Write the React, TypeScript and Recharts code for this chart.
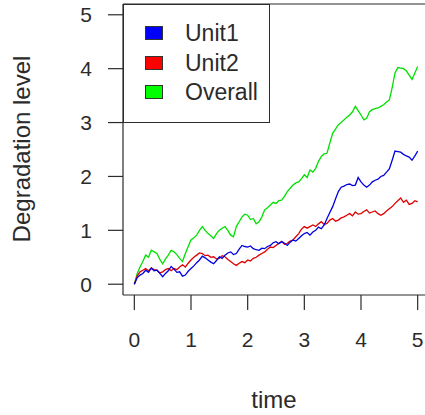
import React from 'react';
import { LineChart, Line, XAxis, YAxis, ReferenceLine, Legend, Label } from 'recharts';

// time grid and the three degradation paths
const TIME = [
  0, 0.05, 0.1, 0.15, 0.2, 0.25, 0.3, 0.35, 0.4, 0.45,
  0.5, 0.55, 0.6, 0.65, 0.7, 0.75, 0.8, 0.85, 0.9, 0.95,
  1, 1.05, 1.1, 1.15, 1.2, 1.25, 1.3, 1.35, 1.4, 1.45,
  1.5, 1.55, 1.6, 1.65, 1.7, 1.75, 1.8, 1.85, 1.9, 1.95,
  2, 2.05, 2.1, 2.15, 2.2, 2.25, 2.3, 2.35, 2.4, 2.45,
  2.5, 2.55, 2.6, 2.65, 2.7, 2.75, 2.8, 2.85, 2.9, 2.95,
  3, 3.05, 3.1, 3.15, 3.2, 3.25, 3.3, 3.35, 3.4, 3.45,
  3.5, 3.55, 3.6, 3.65, 3.7, 3.75, 3.8, 3.85, 3.9, 3.95,
  4, 4.05, 4.1, 4.15, 4.2, 4.25, 4.3, 4.35, 4.4, 4.45,
  4.5, 4.55, 4.6, 4.65, 4.7, 4.75, 4.8, 4.85, 4.9, 4.95,
  5,
];
const UNIT1 = [
  0, 0.12, 0.17, 0.2, 0.26, 0.22, 0.3, 0.25, 0.26, 0.2,
  0.14, 0.2, 0.25, 0.33, 0.28, 0.22, 0.23, 0.15, 0.17, 0.24,
  0.29, 0.34, 0.4, 0.45, 0.52, 0.49, 0.45, 0.41, 0.38, 0.44,
  0.51, 0.48, 0.54, 0.58, 0.6, 0.55, 0.57, 0.65, 0.72, 0.7,
  0.69, 0.71, 0.66, 0.64, 0.63, 0.67, 0.66, 0.7, 0.72, 0.77,
  0.79, 0.75, 0.79, 0.76, 0.72, 0.78, 0.82, 0.8, 0.85, 0.9,
  0.94, 0.96, 0.91, 0.97, 1.0, 1.06, 1.03, 1.1, 1.22, 1.33,
  1.44, 1.58, 1.72, 1.8, 1.82, 1.85, 1.86, 1.83, 1.84, 1.98,
  1.9, 1.84, 1.8, 1.84, 1.9, 1.93, 1.95, 2.0, 2.02, 2.08,
  2.14, 2.3, 2.47, 2.46, 2.45, 2.41, 2.38, 2.36, 2.3, 2.38,
  2.47,
];
const UNIT2 = [
  0, 0.15, 0.23, 0.26, 0.29, 0.25, 0.3, 0.27, 0.26, 0.21,
  0.23, 0.27, 0.29, 0.25, 0.29, 0.27, 0.32, 0.36, 0.32, 0.39,
  0.45, 0.5, 0.54, 0.58, 0.57, 0.53, 0.54, 0.5, 0.51, 0.47,
  0.48, 0.53, 0.51, 0.46, 0.42, 0.38, 0.35, 0.39, 0.42, 0.4,
  0.45, 0.43, 0.48, 0.5, 0.54, 0.57, 0.6, 0.65, 0.69, 0.68,
  0.72, 0.76, 0.79, 0.74, 0.76, 0.8, 0.82, 0.88, 0.94, 1.02,
  1.07, 1.04, 1.07, 1.1, 1.07, 1.12, 1.16, 1.11, 1.13, 1.19,
  1.22, 1.17, 1.19, 1.23, 1.25, 1.28, 1.31, 1.27, 1.34, 1.3,
  1.31, 1.35, 1.38, 1.32, 1.34, 1.36, 1.31, 1.28, 1.31, 1.36,
  1.4, 1.44, 1.5, 1.55, 1.6, 1.52, 1.56, 1.48, 1.5, 1.55,
  1.53,
];
const OVERALL = [
  0, 0.2, 0.32, 0.42, 0.54, 0.5, 0.63, 0.6, 0.57, 0.46,
  0.38, 0.47, 0.54, 0.63, 0.6, 0.55, 0.48, 0.42, 0.57, 0.7,
  0.82, 0.86, 0.91, 1.0, 1.07, 1.0, 0.94, 0.9, 0.85, 0.94,
  1.0, 1.04, 1.07, 1.0, 0.91, 0.88, 1.07, 1.16, 1.25, 1.3,
  1.28, 1.2, 1.22, 1.12, 1.16, 1.25, 1.38, 1.42, 1.47, 1.52,
  1.5, 1.55, 1.56, 1.63, 1.72, 1.78, 1.84, 1.88, 1.9, 1.96,
  2.03, 1.98, 2.12, 2.08, 2.15, 2.28, 2.37, 2.42, 2.43, 2.62,
  2.8, 2.88, 2.96, 3.0, 3.05, 3.1, 3.14, 3.2, 3.3, 3.22,
  3.14, 3.05, 3.08, 3.2, 3.24, 3.26, 3.27, 3.3, 3.33, 3.38,
  3.42, 3.65, 3.92, 4.02, 4.01, 4.0, 3.96, 3.88, 3.8, 3.92,
  4.04,
];
const X_TICKS = [0, 1, 2, 3, 4, 5];
const Y_TICKS = [0, 1, 2, 3, 4, 5];

const data = TIME.map((t, i) => ({
  time: t,
  Unit1: UNIT1[i],
  Unit2: UNIT2[i],
  Overall: OVERALL[i],
}));

const FONT = '"Liberation Sans", Arial, sans-serif';
const INK = '#2b2b2b';

const LEGEND_ITEMS = [
  { name: 'Unit1', fill: '#0000ff' },
  { name: 'Unit2', fill: '#ff0000' },
  { name: 'Overall', fill: '#00ff00' },
];

const renderLegend = () => (
  <div
    style={{
      position: 'relative',
      width: 147,
      height: 119,
      boxSizing: 'border-box',
      border: `1.5px solid ${INK}`,
      background: '#fff',
      fontFamily: FONT,
    }}
  >
    {LEGEND_ITEMS.map((item, i) => (
      <div
        key={item.name}
        style={{
          position: 'absolute',
          left: 21,
          top: 17 + i * 29.5,
          height: 22,
          display: 'flex',
          alignItems: 'center',
        }}
      >
        <span
          style={{
            display: 'inline-block',
            width: 18,
            height: 14,
            boxSizing: 'border-box',
            background: item.fill,
            border: '1px solid #333',
          }}
        />
        <span style={{ marginLeft: 22, fontSize: 23, color: INK, lineHeight: '22px' }}>
          {item.name}
        </span>
      </div>
    ))}
  </div>
);

export default function App() {
  return (
    <div
      style={{
        position: 'absolute',
        left: 0,
        top: 0,
        width: 425,
        height: 415,
        overflow: 'hidden',
        background: '#fff',
        fontFamily: FONT,
      }}
    >
      <LineChart width={430} height={415} data={data} margin={{ top: 4, right: 1, bottom: 0, left: 0 }}>
        <XAxis
          dataKey="time"
          type="number"
          domain={[-0.2, 5.2]}
          ticks={X_TICKS}
          allowDataOverflow
          height={120}
          tickSize={15}
          tickMargin={22}
          stroke={INK}
          strokeWidth={1.2}
          tick={{ fill: INK, fontSize: 21, fontFamily: FONT }}
        >
          <Label
            content={() => (
              <text x={274} y={408} textAnchor="middle" fill={INK} fontSize={24} fontFamily={FONT}>
                time
              </text>
            )}
          />
        </XAxis>
        <YAxis
          type="number"
          domain={[-0.2, 5.2]}
          ticks={Y_TICKS}
          allowDataOverflow
          width={123}
          tickSize={15}
          tickMargin={16}
          stroke={INK}
          strokeWidth={1.2}
          tick={{ fill: INK, fontSize: 21, fontFamily: FONT }}
        >
          <Label
            content={() => (
              <text
                x={30}
                y={149}
                textAnchor="middle"
                fill={INK}
                fontSize={24}
                fontFamily={FONT}
                transform="rotate(-90 30 149)"
              >
                Degradation level
              </text>
            )}
          />
        </YAxis>
        <ReferenceLine y={5.2} stroke={INK} strokeWidth={1.2} />
        <ReferenceLine x={5.2} stroke={INK} strokeWidth={1.2} />
        <Line type="linear" dataKey="Overall" stroke="#00e000" strokeWidth={1.3} dot={false} isAnimationActive={false} />
        <Line type="linear" dataKey="Unit2" stroke="#e00000" strokeWidth={1.3} dot={false} isAnimationActive={false} />
        <Line type="linear" dataKey="Unit1" stroke="#0000e0" strokeWidth={1.3} dot={false} isAnimationActive={false} />
        <Legend
          layout="vertical"
          align="center"
          verticalAlign="middle"
          content={renderLegend}
          wrapperStyle={{ position: 'absolute', left: 123, top: 4, width: 147, height: 119 }}
        />
      </LineChart>
    </div>
  );
}
